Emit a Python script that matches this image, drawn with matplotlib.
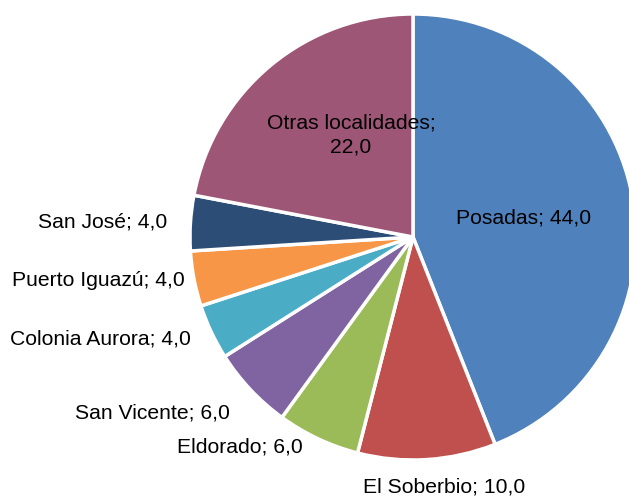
import matplotlib
matplotlib.use("Agg")
import matplotlib.pyplot as plt

categories = ["Posadas", "El Soberbio", "Eldorado", "San Vicente",
              "Colonia Aurora", "Puerto Iguazú", "San José", "Otras localidades"]
values = [44.0, 10.0, 6.0, 6.0, 4.0, 4.0, 4.0, 22.0]
colors = ["#4F81BD", "#C0504D", "#9BBB59", "#8064A2",
          "#4BACC6", "#F79646", "#2C4D75", "#9E5676"]

plt.rcParams['font.family'] = ['Liberation Sans', 'DejaVu Sans']

W, H = 629, 497
fig = plt.figure(figsize=(W / 100, H / 100), dpi=100)
ax = fig.add_axes([0, 0, 1, 1])

cx, cy, r = 413, H - 237, 223
ax.pie(values, colors=colors, startangle=90, counterclock=False,
       center=(cx, cy), radius=r, frame=True,
       wedgeprops=dict(edgecolor='white', linewidth=2.5))
ax.set_xlim(0, W)
ax.set_ylim(0, H)
ax.set_aspect('equal')
ax.axis('off')

def fmt(v):
    return f"{v:.1f}".replace('.', ',')

# label anchor positions (pixel coords from top)
label_pos = {
    "Posadas": (524, 218),
    "El Soberbio": (444, 487),
    "Eldorado": (240, 447),
    "San Vicente": (152, 413),
    "Colonia Aurora": (100, 339),
    "Puerto Iguazú": (98, 280),
    "San José": (103, 222),
    "Otras localidades": (351, 135),
}
for name, v in zip(categories, values):
    x, y = label_pos[name]
    if name == "Otras localidades":
        txt = f"{name};\n{fmt(v)}"
    else:
        txt = f"{name}; {fmt(v)}"
    ax.text(x, H - y, txt, ha='center', va='center', fontsize=15.2,
            color='black', linespacing=1.35)

fig.savefig("out.png", dpi=100)
